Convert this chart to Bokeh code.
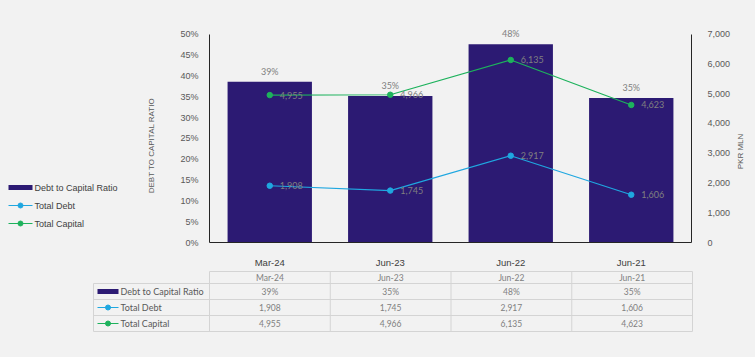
import math
from bokeh.plotting import figure
from bokeh.models import (ColumnDataSource, Range1d, LinearAxis,
                          NumeralTickFormatter, FixedTicker)
from bokeh.layouts import column, row
from bokeh.core.properties import value
from bokeh.embed import file_html
from bokeh.resources import INLINE

# ---------------- data ----------------
categories = ["Mar-24", "Jun-23", "Jun-22", "Jun-21"]
debt_to_capital_ratio = [0.386, 0.352, 0.476, 0.347]
total_debt = [1908, 1745, 2917, 1606]
total_capital = [4955, 4966, 6135, 4623]
series_names = ["Debt to Capital Ratio", "Total Debt", "Total Capital"]
ratio_ticks = [0.0, 0.05, 0.10, 0.15, 0.20, 0.25, 0.30, 0.35, 0.40, 0.45, 0.50]
pkr_ticks = [0, 1000, 2000, 3000, 4000, 5000, 6000, 7000]
left_axis_title = "DEBT TO CAPITAL RATIO"
right_axis_title = "PKR MLN"

# ---------------- style / layout ----------------
BG = "#F2F2F2"
BAR = "#2C1A73"
BLUE = "#1FA7E0"
GREEN = "#1DB25C"
AXIS = "#262626"
TICK_TXT = "#595959"
LBL_TXT = "#808080"
GRID = "#D4D4D4"
ARIAL = "Liberation Sans"
CAL = "Lato"
MK = 5.5

W = 755
CHART_H = 270
TABLE_H = 357 - CHART_H
LEFT_W = 165           # legend + left title strip
RIGHT_X = 733          # start of right title strip
FRAME_L = 209
FRAME_R = 692
FRAME_B = 249
PLOT_PX = 215          # pixels for the 0..50% span
EXTRA = 8              # headroom above the 50% line
FRAME_T = FRAME_B - PLOT_PX - EXTRA
UNIT = (FRAME_R - FRAME_L) / len(categories)

y_end = ratio_ticks[-1] * (PLOT_PX + EXTRA) / PLOT_PX
pkr_end = pkr_ticks[-1] * (PLOT_PX + EXTRA) / PLOT_PX


def no_align(fig):
    try:
        fig.frame_align = False
    except Exception:
        pass


def side_fig(x_lo, x_hi):
    f = figure(width=x_hi - x_lo, height=CHART_H, x_range=Range1d(x_lo, x_hi),
               y_range=Range1d(FRAME_B, FRAME_T), x_axis_location=None,
               y_axis_location=None, output_backend="svg", toolbar_location=None,
               min_border_left=0, min_border_right=0, min_border_top=FRAME_T,
               min_border_bottom=CHART_H - FRAME_B, background_fill_color=BG,
               border_fill_color=BG, outline_line_color=None)
    f.grid.visible = False
    no_align(f)
    return f


src = ColumnDataSource(dict(
    cat=categories,
    ratio=debt_to_capital_ratio,
    debt=total_debt,
    capital=total_capital,
    ratio_lbl=[f"{v:.0%}" for v in debt_to_capital_ratio],
    debt_lbl=[f"{v:,}" for v in total_debt],
    capital_lbl=[f"{v:,}" for v in total_capital],
))

p = figure(x_range=categories, y_range=Range1d(0, y_end), width=RIGHT_X - LEFT_W,
           height=CHART_H, output_backend="svg", toolbar_location=None,
           min_border_left=FRAME_L - LEFT_W, min_border_right=RIGHT_X - FRAME_R,
           min_border_top=FRAME_T, min_border_bottom=CHART_H - FRAME_B,
           background_fill_color=BG, border_fill_color=BG, outline_line_color=None)
no_align(p)
p.extra_y_ranges = {"pkr": Range1d(0, pkr_end)}
p.xgrid.visible = False
p.ygrid.visible = False
p.x_range.range_padding = 0

ya = p.yaxis[0]
ya.ticker = FixedTicker(ticks=ratio_ticks)
ya.formatter = NumeralTickFormatter(format="0%")
ya.bounds = (ratio_ticks[0], ratio_ticks[-1])
ya.major_tick_line_color = None
ya.minor_tick_line_color = None
ya.axis_line_color = AXIS
ya.major_label_standoff = 5
ya.major_label_text_font = ARIAL
ya.major_label_text_font_size = "9px"
ya.major_label_text_color = TICK_TXT

ra = LinearAxis(y_range_name="pkr", ticker=FixedTicker(ticks=pkr_ticks),
                formatter=NumeralTickFormatter(format="0,0"),
                bounds=(pkr_ticks[0], pkr_ticks[-1]))
ra.major_tick_line_color = None
ra.minor_tick_line_color = None
ra.axis_line_color = AXIS
ra.major_label_standoff = 10
ra.major_label_text_font = ARIAL
ra.major_label_text_font_size = "9px"
ra.major_label_text_color = TICK_TXT
p.add_layout(ra, "right")

xa = p.xaxis[0]
xa.major_tick_line_color = None
xa.minor_tick_line_color = None
xa.axis_line_color = AXIS
xa.major_label_standoff = 8
xa.major_label_text_font = ARIAL
xa.major_label_text_font_size = "9.5px"
xa.major_label_text_font_style = "normal"
xa.major_label_text_color = "#404040"

p.vbar(x="cat", top="ratio", width=0.7, source=src, fill_color=BAR, line_color=None)
p.line(x="cat", y="debt", source=src, y_range_name="pkr", line_color=BLUE, line_width=1.2)
p.scatter(x="cat", y="debt", source=src, y_range_name="pkr", size=MK,
          fill_color=BLUE, line_color=BLUE)
p.line(x="cat", y="capital", source=src, y_range_name="pkr", line_color=GREEN, line_width=1.2)
p.scatter(x="cat", y="capital", source=src, y_range_name="pkr", size=MK,
          fill_color=GREEN, line_color=GREEN)

p.text(x="cat", y="ratio", text="ratio_lbl", source=src, y_offset=-5,
       text_align="center", text_baseline="bottom", text_font=value(CAL),
       text_font_size="9px", text_color=LBL_TXT)
p.text(x="cat", y="debt", text="debt_lbl", source=src, y_range_name="pkr", x_offset=10,
       text_align="left", text_baseline="middle", text_font=value(CAL),
       text_font_size="9px", text_color=LBL_TXT)
p.text(x="cat", y="capital", text="capital_lbl", source=src, y_range_name="pkr", x_offset=10,
       text_align="left", text_baseline="middle", text_font=value(CAL),
       text_font_size="9px", text_color=LBL_TXT)

# ---------------- left strip: legend + left axis title ----------------
lf = side_fig(0, LEFT_W)
LEG_X0, LEG_X1, LEG_TXT_X = 8, 32, 34
leg_y = [187, 205, 223]
lf.quad(left=[LEG_X0], right=[LEG_X1], top=[leg_y[0] - 2.5], bottom=[leg_y[0] + 2.5],
        fill_color=BAR, line_color=None)
for k, col in ((1, BLUE), (2, GREEN)):
    lf.segment(x0=[LEG_X0], y0=[leg_y[k]], x1=[LEG_X1], y1=[leg_y[k]],
               line_color=col, line_width=1.2)
    lf.scatter(x=[(LEG_X0 + LEG_X1) / 2], y=[leg_y[k]], size=MK - 0.5,
               fill_color=col, line_color=col)
lf.text(x=[LEG_TXT_X] * 3, y=leg_y, text=series_names, text_align="left",
        text_baseline="middle", text_font=value(ARIAL), text_font_size="9px",
        text_color="#404040")
lf.text(x=[151], y=[145], text=[left_axis_title], angle=math.pi / 2, text_align="center",
        text_baseline="middle", text_font=value(ARIAL), text_font_size="8px",
        text_color=TICK_TXT)

# ---------------- right strip: right axis title ----------------
rf = side_fig(RIGHT_X, W)
rf.text(x=[740], y=[151], text=[right_axis_title], angle=math.pi / 2, text_align="center",
        text_baseline="middle", text_font=value(ARIAL), text_font_size="8px",
        text_color=TICK_TXT)

# ---------------- data table ----------------
def ux(page_x):
    return (page_x - FRAME_L) / UNIT

TBL_L = 93
x0 = ux(TBL_L - 2)
x1 = len(categories) + 2 / UNIT
t = figure(width=W, height=TABLE_H, x_range=Range1d(x0, x1), y_range=Range1d(TABLE_H, 0),
           x_axis_location=None, y_axis_location=None, output_backend="svg",
           toolbar_location=None, min_border_left=TBL_L - 2,
           min_border_right=W - FRAME_R - 2, min_border_top=0, min_border_bottom=0,
           background_fill_color=BG, border_fill_color=BG, outline_line_color=None)
t.grid.visible = False
no_align(t)

n = len(categories)
head_top, head_h, row_h = 1, 12, 16
row_tops = [head_top + head_h + k * row_h for k in range(3)]
table_bottom = row_tops[-1] + row_h
lbl_left = ux(TBL_L)

hx0 = [0] + [lbl_left] * 4
hx1 = [n] * 5
hy = [head_top] + row_tops + [table_bottom]
t.segment(x0=hx0, y0=hy, x1=hx1, y1=hy, line_color=GRID, line_width=1)
vx = [lbl_left] + list(range(n + 1))
vy0 = [row_tops[0]] + [head_top] * (n + 1)
vy1 = [table_bottom] * (n + 2)
t.segment(x0=vx, y0=vy0, x1=vx, y1=vy1, line_color=GRID, line_width=1)

centers = [i + 0.5 for i in range(n)]
row_mid = [rt + row_h / 2 for rt in row_tops]
t.text(x=centers, y=[head_top + head_h / 2] * n, text=categories, text_align="center",
       text_baseline="middle", text_font=value(CAL), text_font_size="8.5px", text_color=LBL_TXT)
row_texts = [[f"{v:.0%}" for v in debt_to_capital_ratio],
             [f"{v:,}" for v in total_debt],
             [f"{v:,}" for v in total_capital]]
for k, texts in enumerate(row_texts):
    t.text(x=centers, y=[row_mid[k]] * n, text=texts, text_align="center",
           text_baseline="middle", text_font=value(CAL), text_font_size="8.5px",
           text_color=LBL_TXT)

sw0, sw1 = ux(97), ux(118)
t.quad(left=[sw0], right=[sw1], top=[row_mid[0] - 2.5], bottom=[row_mid[0] + 2.5],
       fill_color=BAR, line_color=None)
for k, col in ((1, BLUE), (2, GREEN)):
    t.segment(x0=[sw0], y0=[row_mid[k]], x1=[sw1], y1=[row_mid[k]], line_color=col, line_width=1.2)
    t.scatter(x=[(sw0 + sw1) / 2], y=[row_mid[k]], size=MK - 0.5, fill_color=col, line_color=col)
t.text(x=[ux(120)] * 3, y=row_mid, text=series_names, text_align="left",
       text_baseline="middle", text_font=value(CAL), text_font_size="9px", text_color=TICK_TXT)

layout = column(row(lf, p, rf, spacing=0), t, spacing=0)
html = file_html(layout, INLINE)
html = html.replace("</head>",
                    "<style>html,body{background:#F2F2F2 !important;}</style></head>", 1)
open("out.html", "w").write(html)
